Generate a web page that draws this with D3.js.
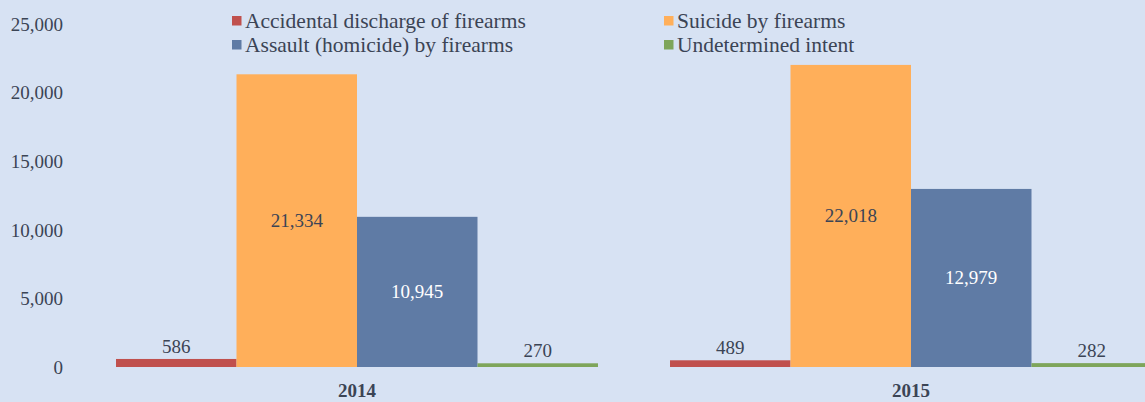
<!DOCTYPE html>
<html>
<head>
<meta charset="utf-8">
<script src="https://cdn.jsdelivr.net/npm/d3@7"></script>
<style>
  html, body { margin: 0; padding: 0; background: #d7e2f3; }
  svg { display: block; }
</style>
</head>
<body>
<svg id="chart" width="1145" height="402"></svg>
<script>
const years = ["2014", "2015"];
const seriesNames = [
  "Accidental discharge of firearms",
  "Suicide by firearms",
  "Assault (homicide) by firearms",
  "Undetermined intent"
];
const seriesColors = ["#c0504d", "#ffaf5a", "#5f7ba5", "#7ea55a"];
const accidental = [586, 489];
const suicide = [21334, 22018];
const assault = [10945, 12979];
const undetermined = [270, 282];
const yTicks = [0, 5000, 10000, 15000, 20000, 25000];

const seriesValues = [accidental, suicide, assault, undetermined];
const labelColors = ["#3b4455", "#3b4455", "#ffffff", "#3b4455"];
const FONT = "'Liberation Serif', 'DejaVu Serif', serif";

const W = 1145, H = 402;
const svg = d3.select("#chart");
svg.append("rect").attr("width", W).attr("height", H).attr("fill", "#d7e2f3");

const x0 = d3.scaleBand().domain(years).range([80, 1188])
  .paddingInner(0.13).paddingOuter(0.065);
const x1 = d3.scaleBand().domain(seriesNames).range([0, x0.bandwidth()]).padding(0);
const y = d3.scaleLinear().domain([0, 25000]).range([367, 24]);

// Y axis labels
const yAxis = d3.axisLeft(y).tickValues(yTicks).tickFormat(d3.format(",")).tickSize(0).tickPadding(0);
const yg = svg.append("g").attr("transform", "translate(63,0)").call(yAxis)
  .attr("font-family", FONT).attr("font-size", "19px");
yg.select(".domain").remove();
yg.selectAll("text")
  .style("font-family", FONT)
  .style("font-size", "19px")
  .attr("fill", "#3b4455")
  .attr("dy", "0.33em");

// X axis labels
const xAxis = d3.axisBottom(x0).tickSize(0).tickPadding(0);
const xg = svg.append("g").attr("transform", "translate(0,397)").call(xAxis)
  .attr("font-family", FONT).attr("font-size", "19px");
xg.select(".domain").remove();
xg.selectAll("text")
  .style("font-family", FONT)
  .style("font-size", "19px")
  .style("font-weight", "bold")
  .attr("fill", "#3b4455")
  .attr("dy", "0");

// Bars
const data = [];
years.forEach((yr, i) => {
  seriesNames.forEach((s, j) => {
    data.push({ year: yr, series: s, idx: j, value: seriesValues[j][i] });
  });
});

const groups = svg.append("g");
groups.selectAll("rect.bar").data(data).enter().append("rect")
  .attr("class", "bar")
  .attr("x", d => x0(d.year) + x1(d.series))
  .attr("width", x1.bandwidth())
  .attr("y", d => y(d.value))
  .attr("height", d => y(0) - y(d.value))
  .attr("fill", d => seriesColors[d.idx]);

const fmt = d3.format(",");
groups.selectAll("text.val").data(data).enter().append("text")
  .attr("class", "val")
  .attr("x", d => x0(d.year) + x1(d.series) + x1.bandwidth() / 2)
  .attr("y", d => d.value > 5000 ? (y(d.value) + y(0)) / 2 + 6.5 : y(d.value) - 6)
  .attr("text-anchor", "middle")
  .style("font-family", FONT)
  .style("font-size", "19px")
  .attr("fill", d => d.value > 5000 ? labelColors[d.idx] : "#3b4455")
  .text(d => fmt(d.value));

// Legend
const legendPos = [
  { x: 232, y: 21 },
  { x: 664, y: 21 },
  { x: 232, y: 45 },
  { x: 664, y: 45 }
];
const legend = svg.append("g");
seriesNames.forEach((s, j) => {
  const p = legendPos[j];
  legend.append("rect")
    .attr("x", p.x).attr("y", p.y - 5)
    .attr("width", 9.5).attr("height", 9.5)
    .attr("fill", seriesColors[j]);
  legend.append("text")
    .attr("x", p.x + 13).attr("y", p.y + 6.5)
    .style("font-family", FONT)
    .style("font-size", "21.5px")
    .attr("fill", "#3b4455")
    .text(s);
});
</script>
</body>
</html>
